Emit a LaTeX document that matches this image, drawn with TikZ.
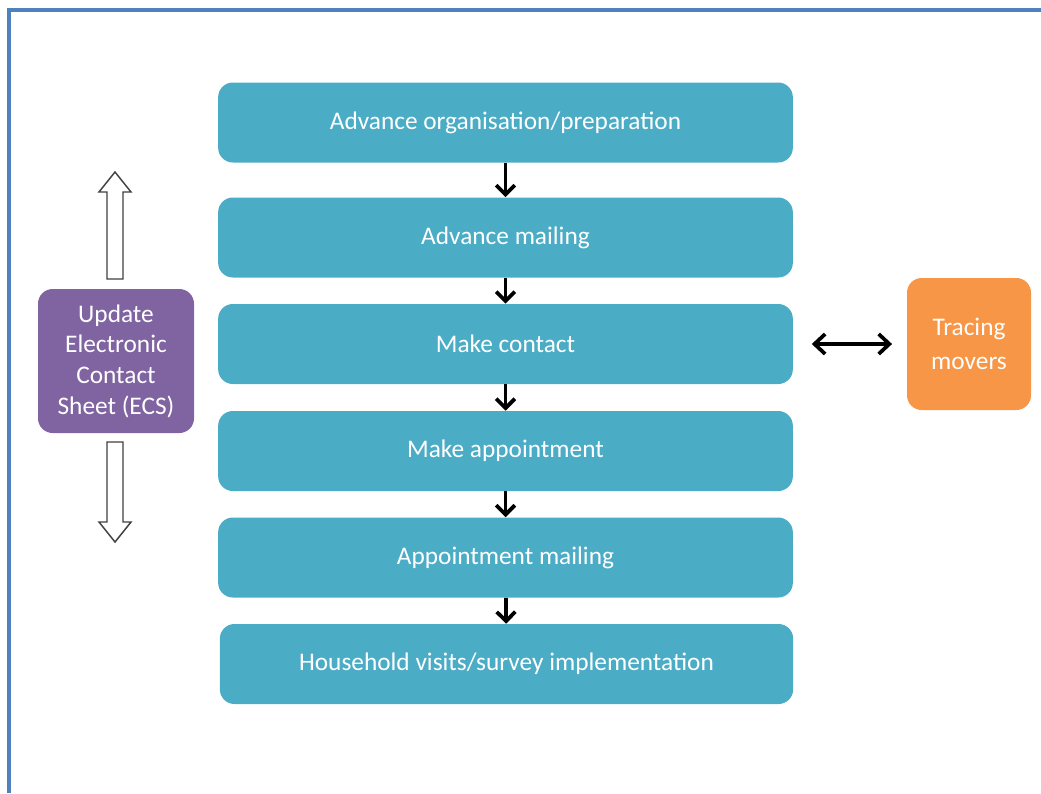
\documentclass[tikz,border=0pt]{standalone}
\usepackage{fontspec}
\setmainfont{Carlito}
\usetikzlibrary{arrows.meta}

\definecolor{stagecol}{HTML}{4BACC6}
\definecolor{ecscol}{HTML}{8064A2}
\definecolor{tracecol}{HTML}{F79646}
\definecolor{framecol}{HTML}{4F81BD}

\begin{document}
\begin{tikzpicture}[x=0.75pt,y=-0.75pt,
    stage/.style={fill=stagecol, rounded corners=11pt, text=white,
        minimum width=431pt, minimum height=60pt, inner sep=0pt,
        font=\fontsize{19}{23}\selectfont},
    sidebox/.style={rounded corners=11pt, text=white, align=center,
        inner sep=0pt, font=\fontsize{19}{23}\selectfont},
    flow/.style={-{Straight Barb[length=7pt,width=14pt,line width=2.8pt]}, line width=2.8pt},
    hollow/.style={draw=black!75, line width=1.1pt, fill=white}]

\useasboundingbox (0,0) rectangle (1041,793);

%% frame
\draw[framecol, line width=2.4pt] (9,793) -- (9,10) -- (1041,10);

%% stages
\node[stage] (prep)    at (505.5,122.5) {Advance organisation/preparation};
\node[stage] (mail)    at (505.5,237.5) {Advance mailing};
\node[stage] (contact) at (505.5,344)   {Make contact};
\node[stage] (appt)    at (505.5,451)   {Make appointment};
\node[stage] (amail)   at (505.5,557.5) {Appointment mailing};
\node[stage, minimum width=430pt] (visit) at (506.5,664) {Household visits/survey implementation};

%% side boxes
\node[sidebox, fill=ecscol, minimum width=117pt, minimum height=108pt] (ecs) at (116,361)
    {Update\\Electronic\\Contact\\Sheet (ECS)};
\node[sidebox, fill=tracecol, minimum width=93pt, minimum height=99pt,
    font=\fontsize{19}{25}\selectfont] (trace) at (969,344) {Tracing\\movers};

%% flow arrows
\draw[flow] (prep)  -- (mail);
\draw[flow] (mail)  -- (contact);
\draw[flow] (contact) -- (appt);
\draw[flow] (appt)  -- (amail);
\draw[flow] (amail) -- (visit);
\draw[{Straight Barb[length=8pt,width=15pt,line width=2.8pt]}-{Straight Barb[length=8pt,width=15pt,line width=2.8pt]},
    line width=2.8pt, shorten <=14pt, shorten >=11pt] (contact) -- (trace);

%% hollow arrows beside ECS
\draw[hollow] (115,172) -- (131,192) -- (123,192) -- (123,279) -- (107,279)
    -- (107,192) -- (99,192) -- cycle;   %% up
\draw[hollow] (115,542) -- (131,522) -- (123,522) -- (123,442) -- (107,442)
    -- (107,522) -- (99,522) -- cycle;   %% down

\end{tikzpicture}
\end{document}
